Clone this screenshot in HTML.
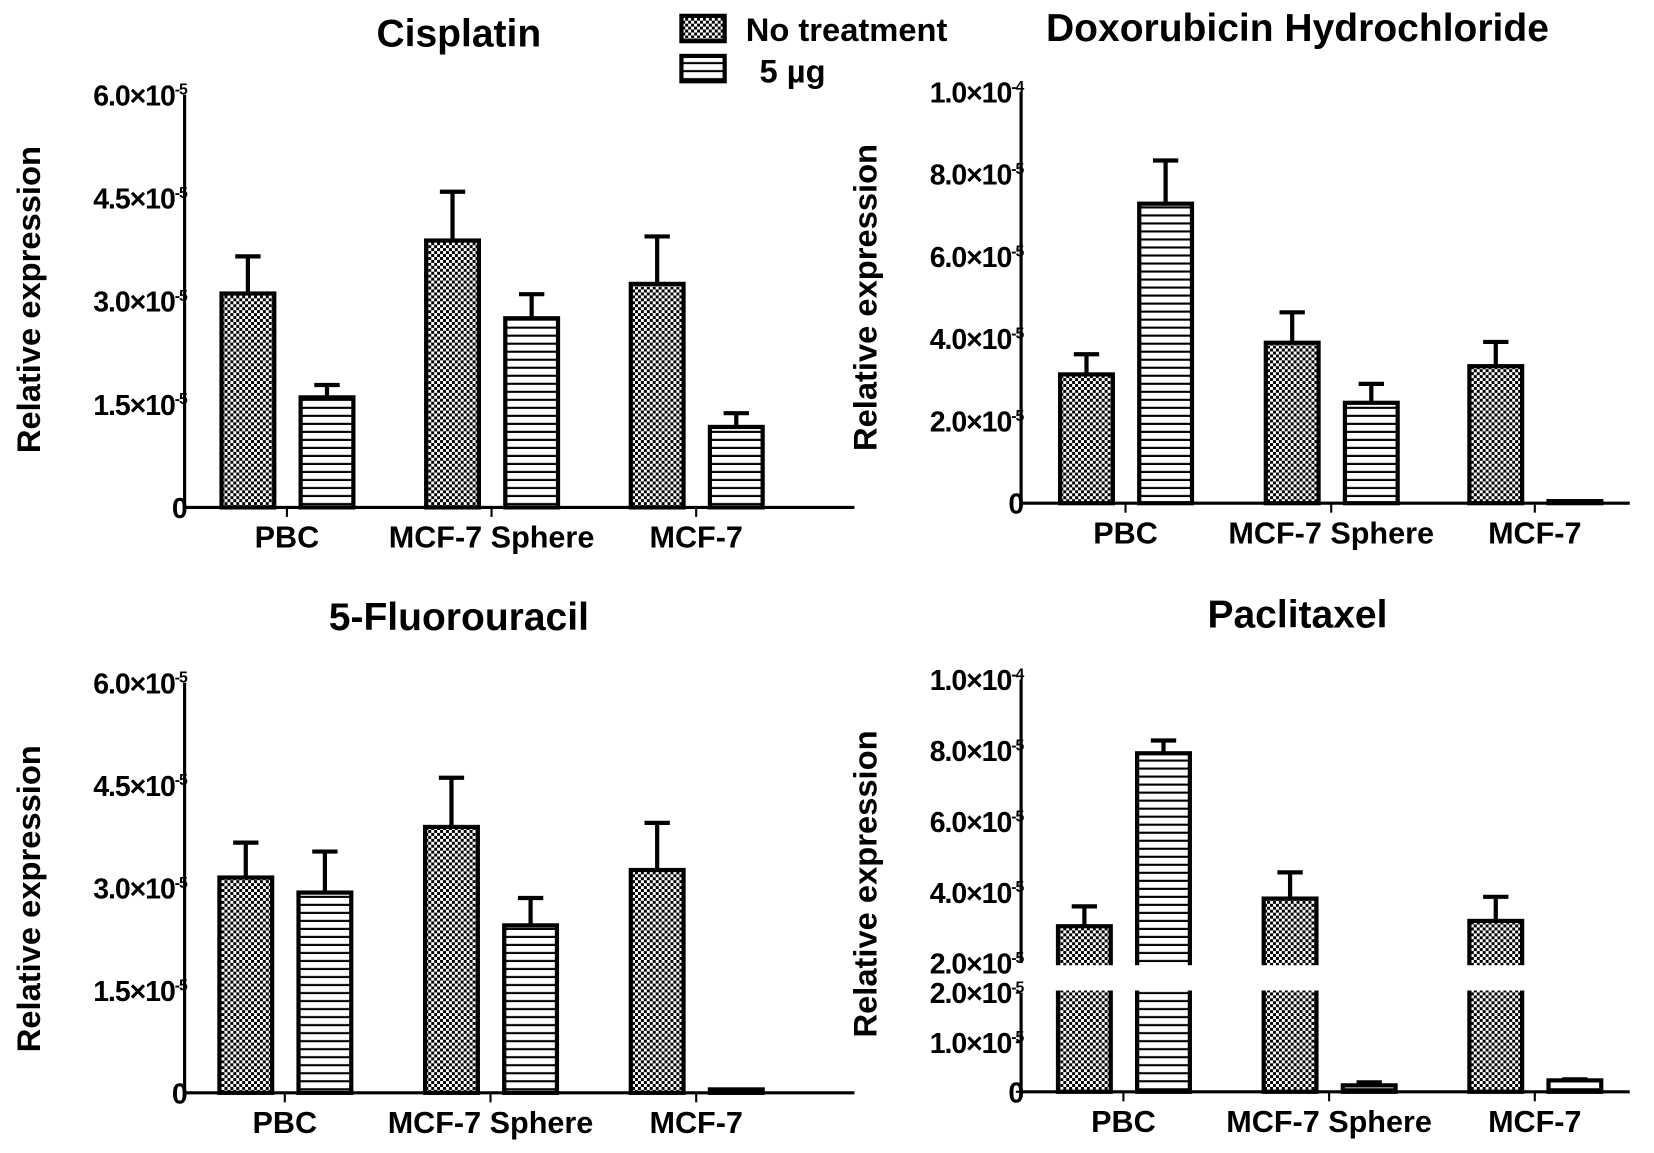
<!DOCTYPE html>
<html><head><meta charset="utf-8">
<style>
html,body{margin:0;padding:0;background:#fff;}
svg{display:block;}
text{font-family:"Liberation Sans",sans-serif;font-weight:bold;fill:#000;}
</style></head>
<body>
<svg id="chart" width="1654" height="1153" viewBox="0 0 1568 1093" xmlns="http://www.w3.org/2000/svg">
<defs>
<pattern id="checker" patternUnits="userSpaceOnUse" width="5.6" height="5.6">
<rect width="5.6" height="5.6" fill="#fff"/>
<rect width="2.8" height="2.8" fill="#000"/>
<rect x="2.8" y="2.8" width="2.8" height="2.8" fill="#000"/>
</pattern>
<pattern id="stripes" patternUnits="userSpaceOnUse" width="10" height="7.6">
<rect width="10" height="7.6" fill="#fff"/>
<rect y="5.6" width="10" height="2" fill="#000"/>
</pattern>
</defs>
<g id="root"></g>
</svg>
<script>
const categories = ["PBC", "MCF-7 Sphere", "MCF-7"];
const seriesNames = ["No treatment", "5 µg"];
// values in units of 1e-5
const cisNT = [3.11, 3.88, 3.25];
const cisNTerr = [0.54, 0.71, 0.69];
const cis5 = [1.60, 2.75, 1.17];
const cis5err = [0.18, 0.35, 0.20];
const doxNT = [3.13, 3.90, 3.33];
const doxNTerr = [0.49, 0.74, 0.59];
const dox5 = [7.28, 2.44, 0.05];
const dox5err = [1.05, 0.46, 0];
const fuNT = [3.15, 3.89, 3.26];
const fuNTerr = [0.51, 0.72, 0.69];
const fu5 = [2.93, 2.45, 0.05];
const fu5err = [0.60, 0.40, 0];
const pacNT = [3.04, 3.82, 3.19];
const pacNTerr = [0.56, 0.74, 0.68];
const pac5 = [7.92, 0.13, 0.23];
const pac5err = [0.36, 0.06, 0.02];
const tickA = ["0", "1.5", "3.0", "4.5", "6.0"];
const tickAvals = [0, 1.5, 3.0, 4.5, 6.0];
const tickB = ["0", "2.0", "4.0", "6.0", "8.0", "1.0"];
const tickBvals = [0, 2, 4, 6, 8, 10];
const tickPlo = ["0", "1.0", "2.0"];
const tickPlovals = [0, 1, 2];
const tickPhi = ["2.0", "4.0", "6.0", "8.0", "1.0"];
const tickPhivals = [2, 4, 6, 8, 10];

const NS = "http://www.w3.org/2000/svg";
const root = document.getElementById('root');
function mk(tag, attrs, parent) {
  const e = document.createElementNS(NS, tag);
  for (const k in attrs) e.setAttribute(k, attrs[k]);
  (parent || root).appendChild(e);
  return e;
}
function tickText(g, x, y, label, val) {
  const t = mk('text', {x: x, y: y + 10, 'font-size': 27, 'text-anchor': 'end', 'letter-spacing': '-1'}, g);
  
  
  if (label === "0") { t.textContent = "0"; return; }
  const exp = val >= 10 ? "-4" : "-5";
  const a = mk('tspan', {}, t); a.textContent = label + "×10";
  const b = mk('tspan', {'font-size': 15, dy: -10}, t); b.textContent = exp;
}

function panel(opt) {
  const g = mk('g', {});
  
  
  const y = v => opt.scale(v);
  const tt = mk('text', {x: opt.titleX, y: opt.titleY, 'font-size': 37, 'text-anchor': 'middle'}, g);
  
  
  tt.textContent = opt.title;
  const yt = mk('text', {x: 0, y: 0, 'font-size': 31, 'text-anchor': 'middle', transform: `translate(${opt.ax - 137},${opt.yTitleY}) rotate(-90)`}, g);
  
  
  yt.textContent = "Relative expression";
  const groups = [[opt.nt, opt.nterr, 'url(#checker)', 0], [opt.t5, opt.t5err, 'url(#stripes)', 1]];
  categories.forEach((c, i) => {
    groups.forEach(([vals, errs, fill, s]) => {
      const x0 = opt.barX[i] + s * 75;
      const v = vals[i], e = errs[i];
      const top = y(v), bot = y(0);
      if (e > 0) {
        const ln = mk('line', {x1: x0 + 25, x2: x0 + 25, y1: top, y2: y(v + e), stroke: '#000', 'stroke-width': 4}, g);
        
        
        const cap = mk('line', {x1: x0 + 13, x2: x0 + 37, y1: y(v + e), y2: y(v + e), stroke: '#000', 'stroke-width': 4}, g);
        
        
      }
      const r = mk('rect', {x: x0, y: top, width: 50, height: Math.max(bot - top, 1.5), fill: fill, stroke: '#000', 'stroke-width': 4}, g);
      
      
    });
    const tk = mk('line', {x1: opt.barX[i] + 62, x2: opt.barX[i] + 62, y1: y(0), y2: y(0) + 9, stroke: '#000', 'stroke-width': 2}, g);
    
    
    const lb = mk('text', {x: opt.barX[i] + 62, y: y(0) + 38, 'font-size': 29, 'text-anchor': 'middle'}, g);
    
    
    lb.textContent = c;
  });
  if (opt.broken) {
    const cover = mk('rect', {x: opt.ax - 3, y: opt.breakHi + 2, width: 600, height: opt.breakLo - opt.breakHi - 4, fill: '#fff'}, g);
    
    
    const a1 = mk('line', {x1: opt.ax, x2: opt.ax, y1: opt.breakLo, y2: y(0), stroke: '#000', 'stroke-width': 3}, g);
    
    
    const a2 = mk('line', {x1: opt.ax, x2: opt.ax, y1: y(10), y2: opt.breakHi, stroke: '#000', 'stroke-width': 3}, g);
    
    
    tickPlo.forEach((l, i) => { tickText(g, opt.ax + 2, y(tickPlovals[i]), l, tickPlovals[i]); mk('line', {x1: opt.ax - 5, x2: opt.ax, y1: y(tickPlovals[i]), y2: y(tickPlovals[i]), stroke: '#000', 'stroke-width': 2}, g); });
    tickPhi.forEach((l, i) => { tickText(g, opt.ax + 2, opt.scaleHi(tickPhivals[i]), l, tickPhivals[i]); });
  } else {
    const a = mk('line', {x1: opt.ax, x2: opt.ax, y1: y(opt.ymax), y2: y(0), stroke: '#000', 'stroke-width': 3}, g);
    
    
    opt.ticks.forEach((l, i) => tickText(g, opt.ax + 2, y(opt.tickVals[i]), l, opt.tickVals[i]));
  }
  const xa = mk('line', {x1: opt.ax, x2: opt.axEnd, y1: y(0), y2: y(0), stroke: '#000', 'stroke-width': 3}, g);
  
  
}
const linScale = (zero, per) => v => zero - v * per;

panel({name: 'cisplatin-panel', title: 'Cisplatin', titleX: 435, titleY: 44, ax: 175, axEnd: 810, yTitleY: 284,
  scale: linScale(481, 65.2), ymax: 6, ticks: tickA, tickVals: tickAvals,
  barX: [210, 404, 598], nt: cisNT, nterr: cisNTerr, t5: cis5, t5err: cis5err});
panel({name: 'doxorubicin-panel', title: 'Doxorubicin Hydrochloride', titleX: 1230, titleY: 39, ax: 968, axEnd: 1545, yTitleY: 282,
  scale: linScale(477, 39), ymax: 10, ticks: tickB, tickVals: tickBvals,
  barX: [1005, 1200, 1393], nt: doxNT, nterr: doxNTerr, t5: dox5, t5err: dox5err});
panel({name: 'fluorouracil-panel', title: '5-Fluorouracil', titleX: 435, titleY: 597, ax: 175, axEnd: 810, yTitleY: 852,
  scale: linScale(1036, 64.8), ymax: 6, ticks: tickA, tickVals: tickAvals,
  barX: [208, 403, 598], nt: fuNT, nterr: fuNTerr, t5: fu5, t5err: fu5err});
const pacHi = v => 913 - (v - 2) * 33.6;
const pacLo = v => 1035 - v * 47;
panel({name: 'paclitaxel-panel', title: 'Paclitaxel', titleX: 1230, titleY: 595, ax: 968, axEnd: 1545, yTitleY: 838,
  scale: v => v <= 2 ? pacLo(v) : pacHi(v), scaleHi: pacHi, broken: true, breakHi: 913, breakLo: 941, ymax: 10,
  barX: [1003, 1198, 1393], nt: pacNT, nterr: pacNTerr, t5: pac5, t5err: pac5err});

const lg = mk('g', {});


[['url(#checker)', 15, seriesNames[0], 707, 39], ['url(#stripes)', 53, seriesNames[1], 720, 78]].forEach(([f, yy, txt, tx, ty]) => {
  const r = mk('rect', {x: 646, y: yy, width: 41, height: 24, fill: f, stroke: '#000', 'stroke-width': 4}, lg);
  
  
  const t = mk('text', {x: tx, y: ty, 'font-size': 31}, lg);
  
  
  t.textContent = txt;
});
</script>
</body></html>
